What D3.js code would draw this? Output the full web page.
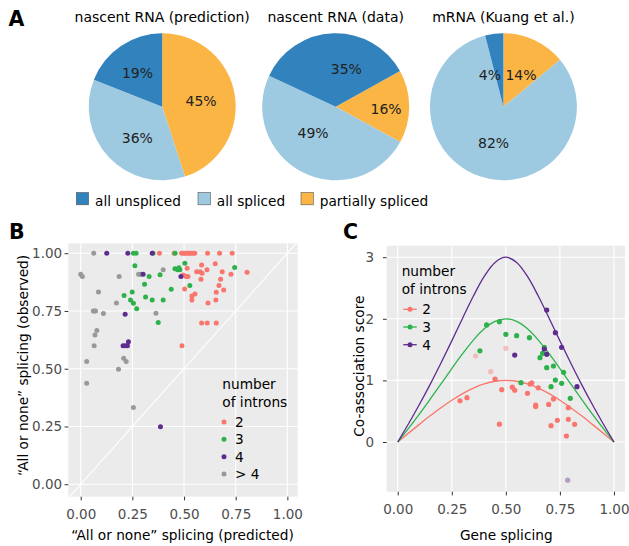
<!DOCTYPE html>
<html><head><meta charset="utf-8">
<script src="https://cdn.jsdelivr.net/npm/d3@7"></script>
<style>body{margin:0;background:#fff} text{font-family:"DejaVu Sans",sans-serif}</style>
</head><body><svg id="chart" width="629" height="546"></svg>
<script>
// ---------------- data ----------------
const pieTitles = ["nascent RNA (prediction)", "nascent RNA (data)", "mRNA (Kuang et al.)"];
const pieCategories = ["partially spliced", "all spliced", "all unspliced"];
const piePartial = [45, 16, 14];
const pieSpliced = [36, 49, 82];
const pieUnspliced = [19, 35, 4];
const legendCategories = ["all unspliced", "all spliced", "partially spliced"];

const bTicks = [0, 0.25, 0.5, 0.75, 1];
const bTickLabels = ["0.00", "0.25", "0.50", "0.75", "1.00"];
const introns = ["2", "3", "4", "> 4"];
const bRed = [[0.381,1],[0.452,1],[0.488,1],[0.497,1],[0.504,1],[0.512,1],[0.52,1],[0.528,1],[0.536,1],[0.544,1],[0.552,1],[0.614,1],[0.672,1],[0.733,1],
  [0.515,0.935],[0.585,0.949],[0.651,0.954],[0.805,0.918],[0.685,0.92],[0.727,0.909],[0.561,0.92],[0.577,0.92],[0.587,0.913],[0.611,0.928],
  [0.496,0.906],[0.51,0.899],[0.519,0.899],[0.582,0.887],[0.677,0.887],[0.669,0.86],[0.503,0.845],[0.692,0.841],[0.656,0.831],[0.553,0.824],
  [0.538,0.815],[0.538,0.798],[0.654,0.798],[0.616,0.785],[0.585,0.698],[0.612,0.698],[0.656,0.698],[0.49,0.599]];
const bGreen = [[0.255,1],[0.268,1],[0.35,1],[0.457,1],[0.262,0.946],[0.29,0.909],[0.331,0.899],[0.384,0.907],[0.456,0.933],[0.469,0.928],
  [0.48,0.928],[0.475,0.937],[0.504,0.957],[0.309,0.866],[0.438,0.844],[0.249,0.832],[0.21,0.817],[0.241,0.798],[0.255,0.784],[0.314,0.811],
  [0.346,0.798],[0.399,0.798],[0.271,0.76],[0.375,0.70],[0.745,0.938],[0.528,0.86]];
const bPurple = [[0.126,1],[0.228,1],[0.346,1],[0.302,0.909],[0.485,0.899],[0.215,0.736],[0.205,0.6],[0.215,0.6],[0.226,0.6],[0.231,0.617],[0.386,0.249]];
const bGrey = [[0.063,1.0],[0.0,0.909],[0.008,0.899],[0.186,0.899],[0.28,0.909],[0.399,0.928],[0.086,0.832],[0.173,0.785],[0.061,0.75],[0.066,0.75],
  [0.072,0.75],[0.11,0.739],[0.364,0.74],[0.078,0.666],[0.069,0.646],[0.065,0.599],[0.029,0.531],[0.208,0.545],[0.22,0.531],[0.183,0.498],
  [0.029,0.437],[0.255,0.332]];

const cXTicks = [0, 0.25, 0.5, 0.75, 1];
const cXTickLabels = ["0.00", "0.25", "0.50", "0.75", "1.00"];
const cYTicks = [0, 1, 2, 3];
const cIntrons = ["2", "3", "4"];
const curveS = [0,0.05,0.1,0.15,0.2,0.25,0.3,0.35,0.4,0.45,0.5,0.55,0.6,0.65,0.7,0.75,0.8,0.85,0.9,0.95,1];
const curve2 = [0,0.144,0.286,0.425,0.556,0.678,0.786,0.876,0.943,0.986,1,0.986,0.943,0.876,0.786,0.678,0.556,0.425,0.286,0.144,0];
const curve3 = [0,0.222,0.454,0.696,0.943,1.193,1.434,1.655,1.837,1.957,2,1.957,1.837,1.655,1.434,1.193,0.943,0.696,0.454,0.222,0];
const curve4 = [0,0.296,0.608,0.936,1.282,1.642,2.010,2.370,2.688,2.916,3,2.916,2.688,2.370,2.010,1.642,1.282,0.936,0.608,0.296,0];
const cRed = [[0.288,0.67],[0.32,0.72],[0.45,1.02],[0.481,0.85],[0.47,0.29],[0.53,0.89],[0.541,0.84],[0.6,0.79],[0.612,0.94],[0.62,0.96],
  [0.65,0.88],[0.638,0.60],[0.638,0.575],[0.698,0.61],[0.72,0.70],[0.789,0.557],[0.709,0.265],[0.738,0.352],[0.789,0.368],[0.818,0.287],[0.78,0.097]];
const cRedFaded = [[0.36,1.396],[0.5,1.52],[0.43,1.142]];
const cGreen = [[0.411,1.9],[0.47,1.953],[0.38,1.48],[0.5,1.748],[0.55,1.726],[0.609,1.694],[0.678,1.537],[0.67,1.44],[0.658,1.369],[0.689,1.206],
  [0.72,1.234],[0.729,1.006],[0.709,0.898],[0.767,1.131],[0.758,0.952],[0.798,0.709],[0.57,0.963]];
const cPurple = [[0.689,2.143],[0.729,1.775],[0.758,1.537],[0.678,1.51],[0.689,1.423],[0.541,1.412],[0.829,0.898]];
const cPurpleFaded = [[0.786,-0.62]];

// ---------------- style / layout ----------------
const pieColors = {"all unspliced":"#3182BD","all spliced":"#9ECAE1","partially spliced":"#FBB545"};
const intronColors = {"2":"#F8766D","3":"#2DB24B","4":"#5E2C8F","> 4":"#999999"};
const panelBg = "#EBEBEB", tickCol = "#4D4D4D";
const pieCx = [162.2, 335.7, 503.4], pieCy = 106.7, pieR = 73.5;
const pieStart = [0, 61, 0];
const labelNudge = [[[-1,0.6],[4.6,4],[-2,-0.7]], [[10,2.5],[-4.4,-10],[12,3]], [[0.4,4.8],[2.7,-1.7],[-8.4,8.3]]];

const svg = d3.select("#chart");
svg.append("rect").attr("width",629).attr("height",546).attr("fill","#fff");

// panel letters
[["A",8.5,25.7],["B",9,239],["C",343,238.5]].forEach(([t,x,y])=>{
  svg.append("text").attr("x",x).attr("y",y).attr("font-size",20.5).attr("font-weight","bold").attr("fill","#000").text(t);
});

// ---------------- pies ----------------
const pieVals = [piePartial, pieSpliced, pieUnspliced];
pieTitles.forEach((title, i) => {
  const data = pieCategories.map((c, k) => ({cat: c, v: pieVals[k][i]}));
  const a0 = pieStart[i] * Math.PI / 180;
  const arcs = d3.pie().sort(null).value(d => d.v).startAngle(a0).endAngle(a0 + 2*Math.PI)(data);
  const g = svg.append("g").attr("transform", `translate(${pieCx[i]},${pieCy})`);
  const arc = d3.arc().innerRadius(0).outerRadius(pieR);
  const lab = d3.arc().innerRadius(pieR*0.55).outerRadius(pieR*0.55);
  g.selectAll("path").data(arcs).join("path").attr("d", arc).attr("fill", d => pieColors[d.data.cat]);
  g.selectAll("text").data(arcs).join("text")
    .attr("x", (d,k) => lab.centroid(d)[0] + labelNudge[i][k][0])
    .attr("y", (d,k) => lab.centroid(d)[1] + labelNudge[i][k][1])
    .attr("dy","0.36em").attr("text-anchor","middle").attr("font-size",14).attr("fill","#222")
    .text(d => d.data.v + "%");
  svg.append("text").attr("x", pieCx[i]).attr("y", 21.5).attr("text-anchor","middle")
    .attr("font-size",14).attr("fill","#000").text(title);
});
// pie legend
const legX = [76.3, 198, 301];
legendCategories.forEach((c, k) => {
  svg.append("rect").attr("x", legX[k]).attr("y", 192.5).attr("width", 12.3).attr("height", 12.3)
    .attr("fill", pieColors[c]).attr("stroke","#555").attr("stroke-width",0.6);
  svg.append("text").attr("x", legX[k] + 18.8).attr("y", 205.5).attr("font-size",13.7).attr("fill","#000").text(c);
});

// ---------------- helpers ----------------
function gridAndBg(x, y, xt, yt, clipId) {
  const [x0,x1] = x.range(), [y0,y1] = y.range();
  svg.append("defs").append("clipPath").attr("id", clipId)
    .append("rect").attr("x",x0).attr("y",y1).attr("width",x1-x0).attr("height",y0-y1);
  svg.append("rect").attr("x",x0).attr("y",y1).attr("width",x1-x0).attr("height",y0-y1).attr("fill",panelBg);
  const g = svg.append("g");
  g.selectAll(".vx").data(xt).join("line").attr("x1",d=>x(d)).attr("x2",d=>x(d)).attr("y1",y1).attr("y2",y0)
    .attr("stroke","#fff").attr("stroke-width",1.1);
  g.selectAll(".hy").data(yt).join("line").attr("y1",d=>y(d)).attr("y2",d=>y(d)).attr("x1",x0).attr("x2",x1)
    .attr("stroke","#fff").attr("stroke-width",1.1);
}
function styleAxis(g) {
  g.select(".domain").remove();
  g.selectAll(".tick line").attr("stroke","#333").attr("stroke-width",1);
  g.selectAll(".tick text").attr("fill",tickCol).attr("font-size",13.5).attr("font-family","DejaVu Sans");
}

// ---------------- panel B ----------------
const xB = d3.scaleLinear().domain([-0.06, 1.05]).range([68.3, 297.7]);
const yB = d3.scaleLinear().domain([-0.054, 1.043]).range([496.7, 243.3]);
gridAndBg(xB, yB, bTicks, bTicks, "clipB");
svg.append("g").attr("clip-path","url(#clipB)").append("line")
  .attr("x1", xB(-0.1)).attr("y1", yB(-0.1)).attr("x2", xB(1.1)).attr("y2", yB(1.1))
  .attr("stroke","#fff").attr("stroke-width",1.1);
const bSeries = [["2", bRed], ["3", bGreen], ["> 4", bGrey], ["4", bPurple]];
bSeries.forEach(([k, arr]) => {
  svg.append("g").selectAll("circle").data(arr).join("circle")
    .attr("cx", d => xB(d[0])).attr("cy", d => yB(d[1])).attr("r", 2.5).attr("fill", intronColors[k]);
});
styleAxis(svg.append("g").attr("transform","translate(68.3,0)")
  .call(d3.axisLeft(yB).tickValues(bTicks).tickFormat((d,i)=>bTickLabels[i]).tickSize(3.7).tickPadding(2.5)));
styleAxis(svg.append("g").attr("transform","translate(0,496.7)")
  .call(d3.axisBottom(xB).tickValues(bTicks).tickFormat((d,i)=>bTickLabels[i]).tickSize(3.7).tickPadding(9.4)));
svg.append("text").attr("x",182.5).attr("y",540).attr("text-anchor","middle").attr("font-size",13.7).attr("fill","#000")
  .text("\u201CAll or none\u201D splicing (predicted)");
svg.append("text").attr("transform","translate(28,365.5) rotate(-90)").attr("text-anchor","middle").attr("font-size",13.7).attr("fill","#000")
  .text("\u201CAll or none\u201D splicing (observed)");
// legend B
svg.append("text").attr("x",222.3).attr("y",389).attr("font-size",13.7).attr("fill","#000").text("number");
svg.append("text").attr("x",222.3).attr("y",407.3).attr("font-size",13.7).attr("fill","#000").text("of introns");
introns.forEach((k, i) => {
  const yy = 422 + i*17.35;
  svg.append("circle").attr("cx",224).attr("cy",yy).attr("r",2.5).attr("fill",intronColors[k]);
  svg.append("text").attr("x",235).attr("y",yy+5).attr("font-size",13.7).attr("fill","#000").text(k);
});

// ---------------- panel C ----------------
const xC = d3.scaleLinear().domain([-0.051, 1.051]).range([386.7, 625]);
const yC = d3.scaleLinear().domain([-0.807, 3.187]).range([491.7, 245.7]);
gridAndBg(xC, yC, cXTicks, cYTicks, "clipC");
const line = d3.line().x(d => xC(d[0])).y(d => yC(d[1])).curve(d3.curveCatmullRom);
[["2", curve2], ["3", curve3], ["4", curve4]].forEach(([k, vals]) => {
  svg.append("path").attr("d", line(curveS.map((s, i) => [s, vals[i]])))
    .attr("fill","none").attr("stroke", intronColors[k]).attr("stroke-width",1.3);
});
[["2", cRedFaded, 0.4], ["4", cPurpleFaded, 0.4], ["2", cRed, 1], ["3", cGreen, 1], ["4", cPurple, 1]].forEach(([k, arr, op]) => {
  svg.append("g").selectAll("circle").data(arr).join("circle")
    .attr("cx", d => xC(d[0])).attr("cy", d => yC(d[1])).attr("r", 2.6)
    .attr("fill", intronColors[k]).attr("fill-opacity", op);
});
styleAxis(svg.append("g").attr("transform","translate(386.7,0)")
  .call(d3.axisLeft(yC).tickValues(cYTicks).tickFormat(d3.format("d")).tickSize(3.7).tickPadding(9)));
styleAxis(svg.append("g").attr("transform","translate(0,491.7)")
  .call(d3.axisBottom(xC).tickValues(cXTicks).tickFormat((d,i)=>cXTickLabels[i]).tickSize(3.7).tickPadding(9.4)));
svg.append("text").attr("x",506.3).attr("y",540).attr("text-anchor","middle").attr("font-size",13.7).attr("fill","#000").text("Gene splicing");
svg.append("text").attr("transform","translate(364,366.2) rotate(-90)").attr("text-anchor","middle").attr("font-size",13.7).attr("fill","#000")
  .text("Co-association score");
// legend C
svg.append("text").attr("x",401.7).attr("y",276).attr("font-size",13.7).attr("fill","#000").text("number");
svg.append("text").attr("x",401.7).attr("y",293.5).attr("font-size",13.7).attr("fill","#000").text("of introns");
cIntrons.forEach((k, i) => {
  const yy = 309.3 + i*17.7;
  svg.append("line").attr("x1",403.3).attr("x2",416.7).attr("y1",yy).attr("y2",yy).attr("stroke",intronColors[k]).attr("stroke-width",1.3);
  svg.append("circle").attr("cx",410).attr("cy",yy).attr("r",2.5).attr("fill",intronColors[k]);
  svg.append("text").attr("x",422.3).attr("y",yy+5).attr("font-size",13.7).attr("fill","#000").text(k);
});
</script></body></html>
